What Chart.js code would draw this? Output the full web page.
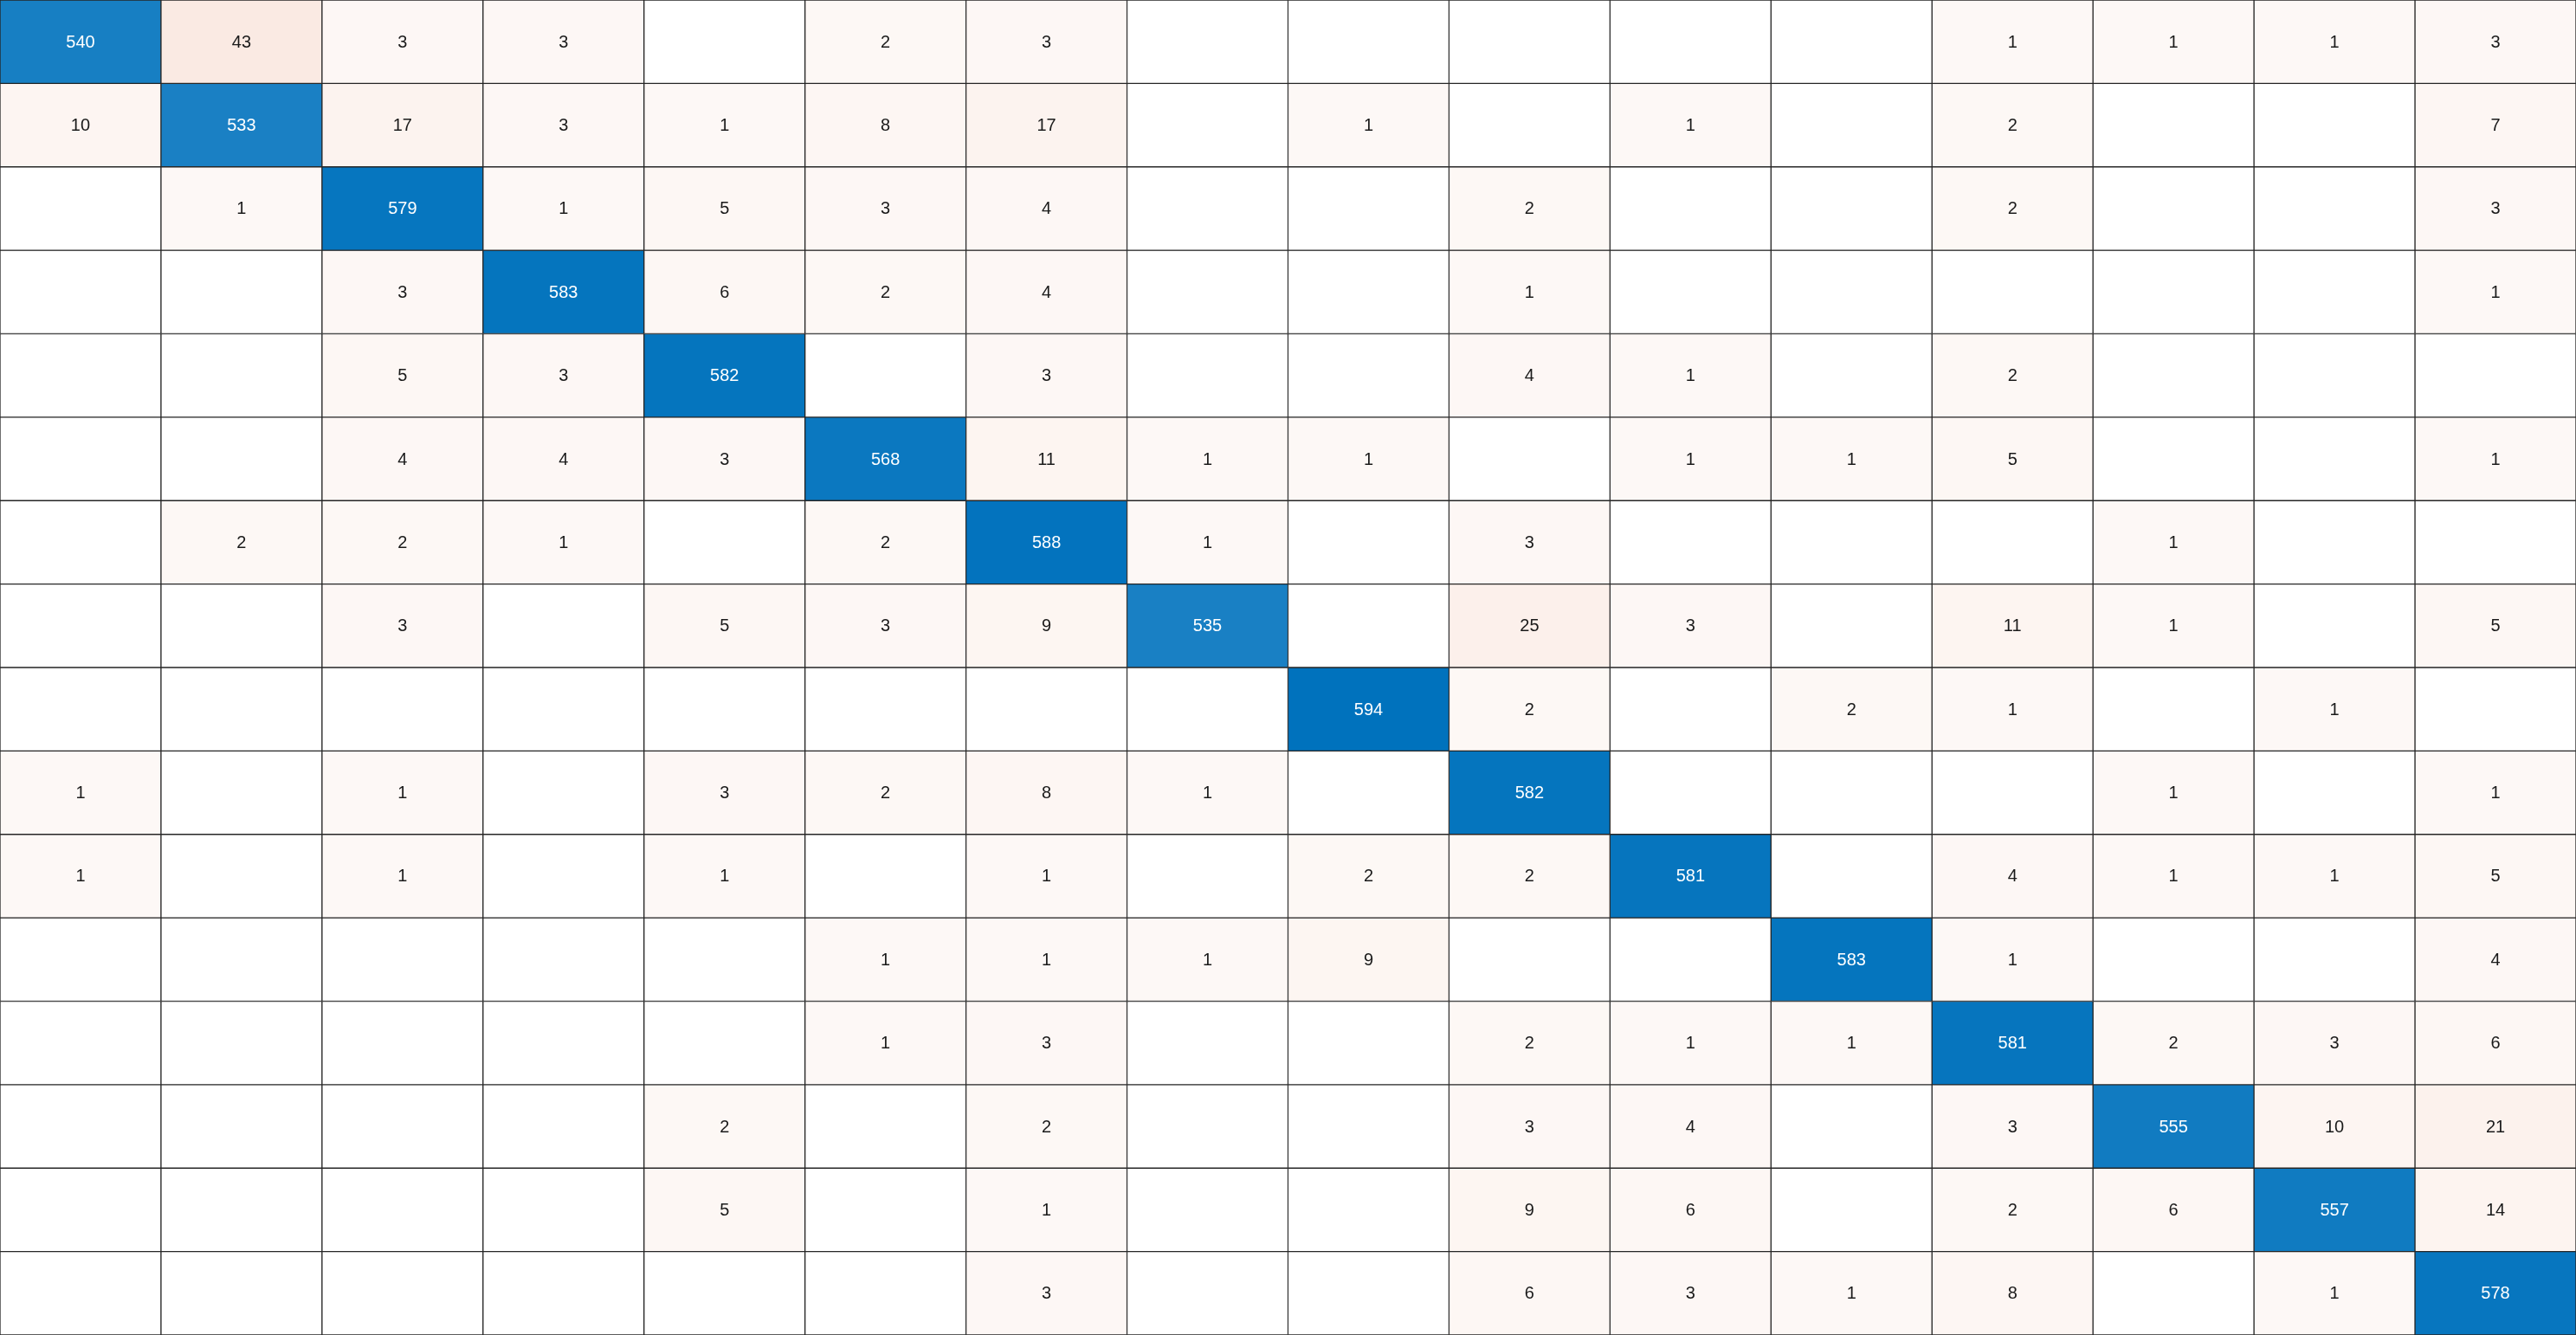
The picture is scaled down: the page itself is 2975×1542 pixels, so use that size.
<!DOCTYPE html>
<html>
<head>
<meta charset="utf-8">
<script src="https://cdn.jsdelivr.net/npm/chart.js@4.4.0/dist/chart.umd.min.js"></script>
<style>
html,body{margin:0;padding:0;background:#fff;}
#wrap{width:2975px;height:1542px;position:relative;}
</style>
</head>
<body>
<div id="wrap"><canvas id="c"></canvas></div>
<script>
// Column (predicted) categories
const classes = ['1','2','3','4','5','6','7','8','9','10','11','12','13','14','15','16'];
// Matrix rows (true class), 0 = empty cell
const row01 = [540,43,3,3,0,2,3,0,0,0,0,0,1,1,1,3];
const row02 = [10,533,17,3,1,8,17,0,1,0,1,0,2,0,0,7];
const row03 = [0,1,579,1,5,3,4,0,0,2,0,0,2,0,0,3];
const row04 = [0,0,3,583,6,2,4,0,0,1,0,0,0,0,0,1];
const row05 = [0,0,5,3,582,0,3,0,0,4,1,0,2,0,0,0];
const row06 = [0,0,4,4,3,568,11,1,1,0,1,1,5,0,0,1];
const row07 = [0,2,2,1,0,2,588,1,0,3,0,0,0,1,0,0];
const row08 = [0,0,3,0,5,3,9,535,0,25,3,0,11,1,0,5];
const row09 = [0,0,0,0,0,0,0,0,594,2,0,2,1,0,1,0];
const row10 = [1,0,1,0,3,2,8,1,0,582,0,0,0,1,0,1];
const row11 = [1,0,1,0,1,0,1,0,2,2,581,0,4,1,1,5];
const row12 = [0,0,0,0,0,1,1,1,9,0,0,583,1,0,0,4];
const row13 = [0,0,0,0,0,1,3,0,0,2,1,1,581,2,3,6];
const row14 = [0,0,0,0,2,0,2,0,0,3,4,0,3,555,10,21];
const row15 = [0,0,0,0,5,0,1,0,0,9,6,0,2,6,557,14];
const row16 = [0,0,0,0,0,0,3,0,0,6,3,1,8,0,1,578];

const rows = [row01,row02,row03,row04,row05,row06,row07,row08,row09,row10,row11,row12,row13,row14,row15,row16];

const BLUE = [0,114,189];
const ORANGE = [217,83,25];
let maxDiag = 0;
rows.forEach((r,i)=>{ if (r[i] > maxDiag) maxDiag = r[i]; });

function mix(col, t){
  return 'rgb(' + col.map(v => Math.round(255 - (255 - v) * t)).join(',') + ')';
}
function cellColor(v, i, j){
  if (v === 0) return '#ffffff';
  if (i === j) return mix(BLUE, v / maxDiag);
  return mix(ORANGE, Math.min(1, 0.038 + 0.0019 * v));
}

const datasets = rows.map((r, i) => ({
  label: 'row ' + classes[i],
  data: r.map(() => [i, i + 1]),
  backgroundColor: r.map((v, j) => cellColor(v, i, j)),
  borderColor: '#262626',
  borderWidth: 1,
  borderSkipped: false,
  categoryPercentage: 1.0,
  barPercentage: 1.0
}));

const labelPlugin = {
  id: 'cellLabels',
  afterDatasetsDraw(chart){
    const ctx = chart.ctx;
    ctx.save();
    ctx.font = '20px "Liberation Sans", Arial, Helvetica, sans-serif';
    ctx.textAlign = 'center';
    ctx.textBaseline = 'middle';
    rows.forEach((r, i) => {
      const meta = chart.getDatasetMeta(i);
      r.forEach((v, j) => {
        if (!v) return;
        const el = meta.data[j];
        const cy = (el.y + el.base) / 2;
        ctx.fillStyle = (i === j) ? '#ffffff' : '#1a1a1a';
        ctx.fillText(String(v), el.x, cy + 1);
      });
    });
    ctx.restore();
  }
};

new Chart(document.getElementById('c'), {
  type: 'bar',
  data: { labels: classes, datasets },
  options: {
    responsive: true,
    maintainAspectRatio: false,
    animation: false,
    devicePixelRatio: 1,
    layout: { padding: 0 },
    plugins: { legend: { display: false }, tooltip: { enabled: false } },
    scales: {
      x: { display: false, stacked: true },
      y: { display: false, stacked: false, min: 0, max: 16, reverse: true }
    }
  },
  plugins: [labelPlugin]
});
</script>
</body>
</html>
